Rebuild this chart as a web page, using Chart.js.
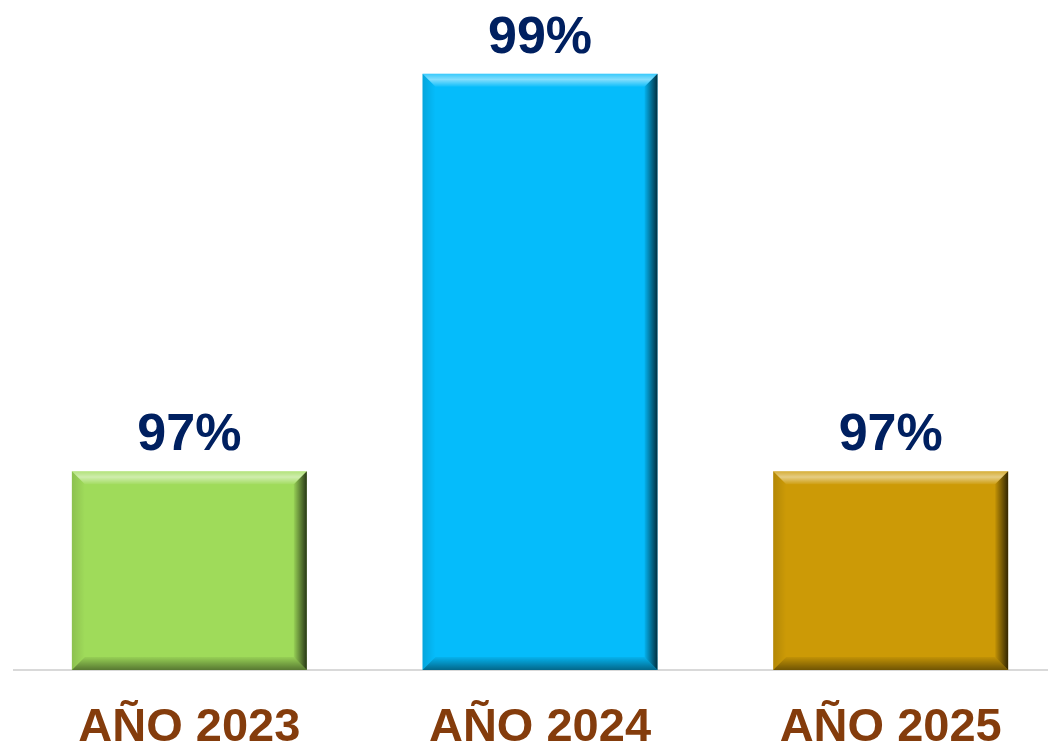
<!DOCTYPE html>
<html>
<head>
<meta charset="utf-8">
<script src="https://cdn.jsdelivr.net/npm/chart.js@4.4.0/dist/chart.umd.min.js"></script>
<style>
    html, body { margin: 0; padding: 0; overflow: hidden; background: #fff; }
    #wrap { width: 1080px; height: 746px; position: relative; }
</style>
</head>
<body>
<div id="wrap"><canvas id="chart"></canvas></div>
<script>
const categories = ['AÑO 2023', 'AÑO 2024', 'AÑO 2025'];
const values = [97, 99, 97];
const barColors = ['#9FDB5A', '#05BCFB', '#CC9A06'];
const axisMin = 96;
const axisMax = 99.3;

// bevel look of the bars, drawn on top of each bar element
const bevelPlugin = {
    id: 'bevel',
    afterDatasetsDraw(chart) {
        const ctx = chart.ctx;
        const meta = chart.getDatasetMeta(0);
        const area = chart.chartArea;
        meta.data.forEach((bar) => {
            const { x, y, base, width } = bar.getProps(['x', 'y', 'base', 'width'], true);
            const l = x - width / 2, r = x + width / 2, t = y;
            const b = Math.min(base, area.bottom);
            const e = 13;
            const poly = (pts, fill) => {
                ctx.beginPath();
                ctx.moveTo(pts[0][0], pts[0][1]);
                pts.slice(1).forEach(p => ctx.lineTo(p[0], p[1]));
                ctx.closePath();
                ctx.fillStyle = fill;
                ctx.fill();
            };
            ctx.save();
            let g = ctx.createLinearGradient(0, t, 0, t + e);
            g.addColorStop(0, 'rgba(255,255,255,0.2)');
            g.addColorStop(0.45, 'rgba(255,255,255,0.5)');
            g.addColorStop(1, 'rgba(255,255,255,0.05)');
            poly([[l, t], [r, t], [r - e, t + e], [l + e, t + e]], g);

            g = ctx.createLinearGradient(l, 0, l + e, 0);
            g.addColorStop(0, 'rgba(0,0,0,0.12)');
            g.addColorStop(1, 'rgba(0,0,0,0)');
            poly([[l, t], [l + e, t + e], [l + e, b - e], [l, b]], g);

            g = ctx.createLinearGradient(0, b - e, 0, b);
            g.addColorStop(0, 'rgba(0,0,0,0.05)');
            g.addColorStop(1, 'rgba(0,0,0,0.45)');
            poly([[l, b], [r, b], [r - e, b - e], [l + e, b - e]], g);

            g = ctx.createLinearGradient(r - e, 0, r, 0);
            g.addColorStop(0, 'rgba(0,0,0,0.05)');
            g.addColorStop(1, 'rgba(0,0,0,0.75)');
            poly([[r, t], [r, b], [r - e, b - e], [r - e, t + e]], g);
            ctx.restore();
        });
    }
};

const valueLabels = {
    id: 'valueLabels',
    afterDatasetsDraw(chart) {
        const ctx = chart.ctx;
        const meta = chart.getDatasetMeta(0);
        ctx.save();
        ctx.font = 'bold 52px "Liberation Sans", Arial, sans-serif';
        ctx.fillStyle = '#002060';
        ctx.textAlign = 'center';
        ctx.textBaseline = 'alphabetic';
        meta.data.forEach((bar, i) => {
            ctx.fillText(`${values[i]}%`, bar.x, bar.y - 21);
        });
        ctx.restore();
    }
};

new Chart(document.getElementById('chart'), {
    type: 'bar',
    data: {
        labels: categories,
        datasets: [{
            data: values,
            backgroundColor: barColors,
            borderWidth: 0,
            categoryPercentage: 1,
            barPercentage: 0.67
        }]
    },
    options: {
        responsive: true,
        maintainAspectRatio: false,
        animation: false,
        layout: { padding: { left: 14, right: 14, top: 14, bottom: 0 } },
        plugins: { legend: { display: false }, tooltip: { enabled: false } },
        scales: {
            y: { display: false, min: axisMin, max: axisMax },
            x: {
                grid: { display: false, drawTicks: false },
                border: { display: true, color: '#D9D9D9', width: 2 },
                ticks: {
                    color: '#843C0C',
                    padding: 30,
                    font: { family: '"Liberation Sans", Arial, sans-serif', size: 47, weight: 'bold' }
                },
                afterFit: (scale) => { scale.height = 76; }
            }
        }
    },
    plugins: [bevelPlugin, valueLabels]
});
</script>
</body>
</html>
